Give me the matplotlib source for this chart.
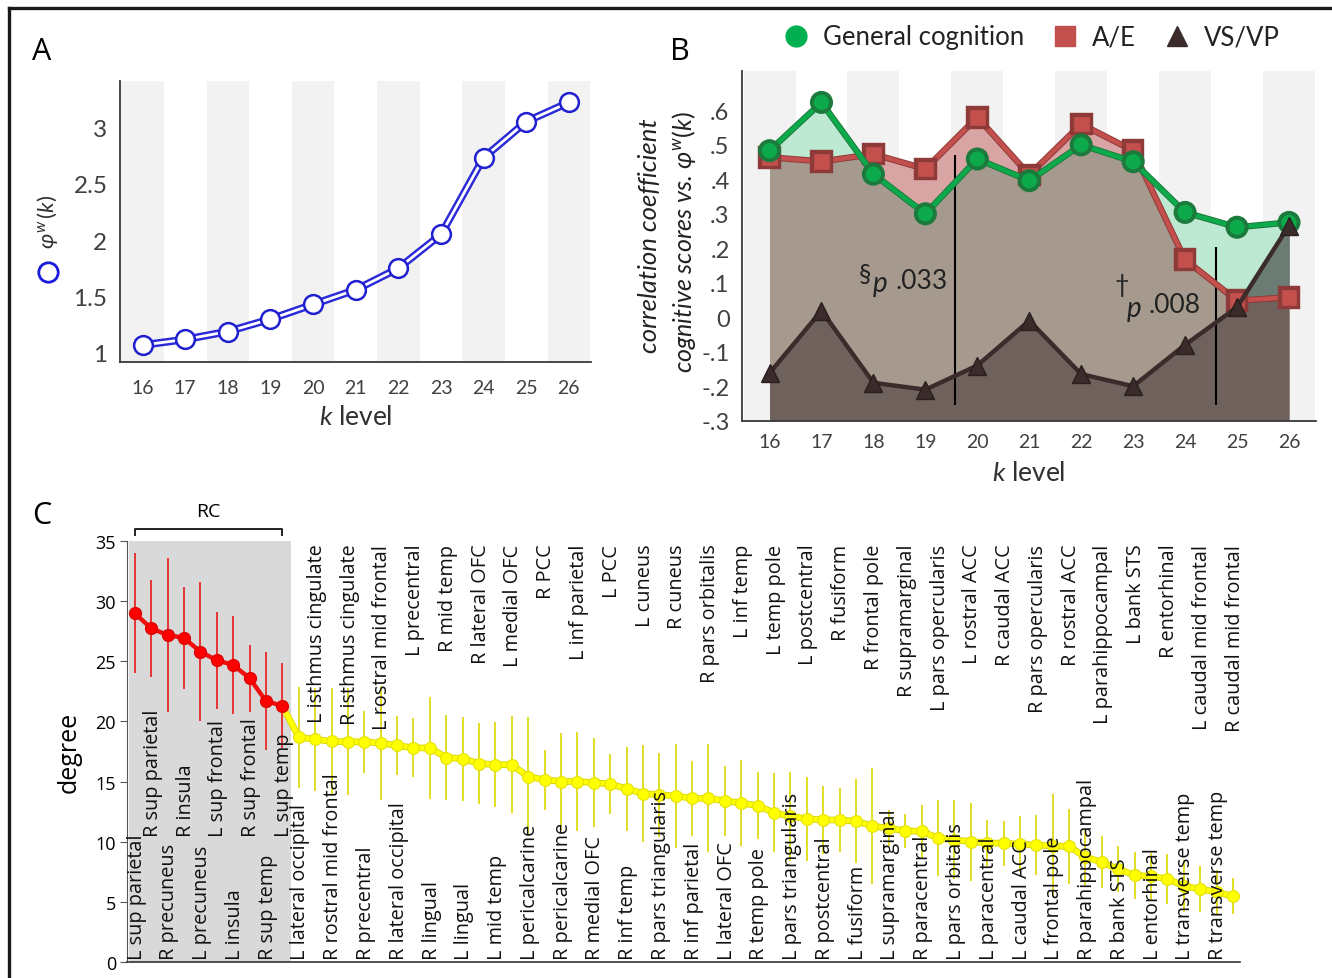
import numpy as np
import matplotlib
matplotlib.use("Agg")
import matplotlib.pyplot as plt
from matplotlib.lines import Line2D
import matplotlib.patheffects as pe

# ---------------- data ----------------
k_levels = [16, 17, 18, 19, 20, 21, 22, 23, 24, 25, 26]
phi_w = [1.07, 1.12, 1.19, 1.30, 1.43, 1.56, 1.75, 2.05, 2.73, 3.05, 3.22]

gen_cog = [0.483, 0.623, 0.415, 0.300, 0.459, 0.396, 0.500, 0.451, 0.304, 0.261, 0.275]
ae_corr = [0.464, 0.452, 0.473, 0.430, 0.580, 0.413, 0.560, 0.483, 0.167, 0.048, 0.058]
vsvp_corr = [-0.162, 0.019, -0.190, -0.210, -0.140, -0.010, -0.165, -0.200, -0.080, 0.029, 0.266]

b_yticks = [-0.3, -0.2, -0.1, 0.0, 0.1, 0.2, 0.3, 0.4, 0.5, 0.6]
b_yticklabels = ["-.3", "-.2", "-.1", "0", ".1", ".2", ".3", ".4", ".5", ".6"]

regions = ["L sup parietal", "R sup parietal", "R precuneus", "R insula", "L precuneus",
           "L sup frontal", "L insula", "R sup frontal", "R sup temp", "L sup temp",
           "L lateral occipital", "L isthmus cingulate", "R rostral mid frontal",
           "R isthmus cingulate", "R precentral", "L rostral mid frontal",
           "R lateral occipital", "L precentral", "R lingual", "R mid temp",
           "L lingual", "R lateral OFC", "L mid temp", "L medial OFC",
           "L pericalcarine", "R PCC", "R pericalcarine", "L inf parietal",
           "R medial OFC", "L PCC", "R inf temp", "L cuneus", "R pars triangularis",
           "R cuneus", "R inf parietal", "R pars orbitalis", "L lateral OFC",
           "L inf temp", "R temp pole", "L temp pole", "L pars triangularis",
           "L postcentral", "R postcentral", "R fusiform", "L fusiform",
           "R frontal pole", "L supramarginal", "R supramarginal", "R paracentral",
           "L pars opercularis", "L pars orbitalis", "L rostral ACC", "L paracentral",
           "R caudal ACC", "L caudal ACC", "R pars opercularis", "L frontal pole",
           "R rostral ACC", "R parahippocampal", "L parahippocampal", "R bank STS",
           "L bank STS", "L entorhinal", "R entorhinal", "L transverse temp",
           "L caudal mid frontal", "R transverse temp", "R caudal mid frontal"]

degree = [29.0, 27.75, 27.2, 26.95, 25.8, 25.1, 24.7, 23.6, 21.7, 21.3,
          18.7, 18.5, 18.35, 18.3, 18.3, 18.2, 18.0, 17.8, 17.8, 17.0,
          16.9, 16.5, 16.4, 16.4, 15.4, 15.15, 15.0, 15.0, 14.9, 14.8,
          14.4, 14.0, 13.9, 13.8, 13.6, 13.6, 13.4, 13.2, 13.0, 12.4,
          12.1, 11.9, 11.8, 11.8, 11.7, 11.3, 11.1, 10.9, 10.85, 10.3,
          10.15, 10.0, 9.9, 9.85, 9.8, 9.7, 9.65, 9.6, 8.7, 8.3,
          7.7, 7.2, 7.1, 6.9, 6.3, 6.05, 5.8, 5.45]

degree_err = [5.0, 4.05, 6.4, 4.25, 5.8, 4.05, 4.1, 2.8, 4.1, 3.55,
              4.2, 4.3, 4.45, 4.45, 2.6, 4.75, 2.45, 2.45, 4.25, 3.5,
              3.5, 3.4, 3.55, 4.05, 4.95, 2.5, 4.0, 4.1, 3.7, 2.5,
              3.5, 4.0, 3.5, 4.35, 3.1, 4.5, 2.9, 3.6, 2.8, 3.3,
              3.7, 3.5, 2.8, 2.7, 3.5, 4.8, 1.5, 1.4, 2.2, 3.2,
              3.3, 3.25, 1.9, 1.9, 2.35, 2.5, 4.3, 3.15, 2.35, 2.15,
              1.9, 1.95, 1.95, 2.1, 2.15, 1.9, 1.8, 1.5]

n_rich_club = 10

# ---------------- style ----------------
plt.rcParams['font.family'] = ['Lato', 'DejaVu Sans']
plt.rcParams['mathtext.fontset'] = 'custom'
plt.rcParams['mathtext.rm'] = 'Lato'
plt.rcParams['mathtext.it'] = 'Lato:italic'
plt.rcParams['mathtext.bf'] = 'Lato:bold'
plt.rcParams['mathtext.fallback'] = 'stixsans'

W, H = 1332, 979
fig = plt.figure(figsize=(W / 100, H / 100), dpi=100)

TICKC = '#404040'
BAND = '#f2f2f2'

# figure frame (top and left)
fig.add_artist(Line2D([9 / W, 1.0], [1 - 9 / H, 1 - 9 / H], transform=fig.transFigure,
                      color='#1a1a1a', lw=2.4))
fig.add_artist(Line2D([9 / W, 9 / W], [0.0, 1 - 9 / H], transform=fig.transFigure,
                      color='#1a1a1a', lw=2.4))

k = np.array(k_levels)

def style_ab(ax):
    for s in ['top', 'right']:
        ax.spines[s].set_visible(False)
    for s in ['left', 'bottom']:
        ax.spines[s].set_color('#3a3a3a')
        ax.spines[s].set_linewidth(1.3)
    ax.tick_params(length=0, colors=TICKC)
    for kk in k[::2]:
        ax.axvspan(kk - 0.5, kk + 0.5, color=BAND, lw=0, zorder=0)
    ax.set_xticks(k)
    ax.set_xlim(15.47, 26.52)

# ---------------- Panel A ----------------
axA = fig.add_axes([120 / W, 1 - 363 / H, 471 / W, 281 / H])
style_ab(axA)
axA.set_ylim(0.92, 3.41)
axA.set_yticks([1, 1.5, 2, 2.5, 3])
axA.set_yticklabels(["1", "1.5", "2", "2.5", "3"])
axA.tick_params(axis='y', labelsize=17.5, pad=9)
axA.tick_params(axis='x', labelsize=14, pad=12)
axA.plot(k, phi_w, color='#2a2ad8', lw=5.5, zorder=3, solid_capstyle='round')
axA.plot(k, phi_w, color='white', lw=2.0, zorder=4, solid_capstyle='round')
axA.plot(k, phi_w, 'o', ms=13.5, mfc='white', mec='#2020d0', mew=1.8, zorder=5)
axA.set_xlabel(r"$k$ level", fontsize=19, color='#303030', labelpad=6)

fig.text(48 / W, 1 - 222 / H, r"$\varphi^{w}\,(k)$", rotation=90, ha='center', va='center',
         fontsize=16, color='#303030')
fig.add_artist(Line2D([48 / W], [1 - 273 / H], transform=fig.transFigure, marker='o',
                      ms=14, mfc='white', mec='#1a1adb', mew=2, ls='none'))

# ---------------- Panel B ----------------
axB = fig.add_axes([742 / W, 1 - 421.7 / H, 574 / W, 350 / H])
style_ab(axB)
axB.set_ylim(-0.3, 0.715)
axB.set_yticks(b_yticks)
axB.set_yticklabels(b_yticklabels)
axB.tick_params(axis='y', labelsize=17, pad=9)
axB.tick_params(axis='x', labelsize=14, pad=9)

g = np.array(gen_cog)
r = np.array(ae_corr)
b = np.array(vsvp_corr)
base = -0.3
MINT = '#bde8d1'
PINK = '#d9a5a4'
GRAYBROWN = '#a69a8e'
DARKBROWN = '#6f625c'
DARKGG = '#6b7c74'
axB.fill_between(k, base, g, color=GRAYBROWN, lw=0, zorder=1)
axB.fill_between(k, base, r, color=GRAYBROWN, lw=0, zorder=1)
axB.fill_between(k, r, g, where=g >= r, interpolate=True, color=MINT, lw=0, zorder=1.5)
axB.fill_between(k, r, g, where=r > g, interpolate=True, color=PINK, lw=0, zorder=1.5)
axB.fill_between(k, base, b, color=DARKBROWN, lw=0, zorder=2)
axB.fill_between(k, r, b, where=b > r, interpolate=True, color=DARKGG, lw=0, zorder=2.5)

# significance lines
axB.vlines([19.58, 24.59], [-0.255, -0.255], [0.47, 0.203], color='black', lw=1.5, zorder=3)
axB.text(17.72, 0.128, "§", fontsize=18, ha='left', va='center', color='#222222', zorder=6)
axB.text(17.98, 0.098, "p", fontsize=20, style='italic', ha='left', va='center', color='#222222', zorder=6)
axB.text(18.42, 0.108, ".033", fontsize=19, ha='left', va='center', color='#222222', zorder=6)
axB.text(22.65, 0.095, "†", fontsize=18, ha='left', va='center', color='#222222', zorder=6)
axB.text(22.88, 0.028, "p", fontsize=20, style='italic', ha='left', va='center', color='#222222', zorder=6)
axB.text(23.30, 0.038, ".008", fontsize=19, ha='left', va='center', color='#222222', zorder=6)

GREEN = '#0daa4c'
RED = '#c4504d'
DARK = '#3b2b2b'
axB.plot(k, r, color=RED, lw=3.2, marker='s', ms=12, mfc=RED, mec='#8e3a38', mew=1.0, zorder=4,
         path_effects=[pe.Stroke(linewidth=4.6, foreground='#8e3a38'), pe.Normal()])
axB.plot(k, g, color=GREEN, lw=3.2, marker='o', ms=12, mfc=GREEN, mec='#1b7a3c', mew=1.0, zorder=5,
         path_effects=[pe.Stroke(linewidth=4.6, foreground='#1b7a3c'), pe.Normal()])
axB.plot(k, b, color=DARK, lw=3.2, marker='^', ms=13, mfc=DARK, mec='#2a1e1e', mew=1.0, zorder=5.5)
axB.set_xlabel(r"$k$ level", fontsize=19, color='#303030', labelpad=7)

fig.text(650 / W, 1 - 236 / H, "correlation coefficient", rotation=90, ha='center', va='center',
         fontsize=18.5, style='italic', color='#222222')
fig.text(684 / W, 1 - 242 / H, r"cognitive scores vs. $\varphi^{w}(k)$", rotation=90, ha='center',
         va='center', fontsize=18, style='italic', color='#222222')

handles = [Line2D([], [], ls='none', marker='o', ms=15, mfc='#00b050', mec='#00b050'),
           Line2D([], [], ls='none', marker='s', ms=15, mfc=RED, mec=RED),
           Line2D([], [], ls='none', marker='^', ms=14, mfc=DARK, mec=DARK)]
fig.legend(handles, ["General cognition", "A/E", "VS/VP"], loc='center',
           bbox_to_anchor=(1030 / W, 1 - 38 / H), ncol=3, frameon=False, fontsize=18.5,
           handletextpad=0.45, columnspacing=1.0, handlelength=1.2, labelcolor='#222222')

# panel letters
fig.text(42 / W, 1 - 52 / H, "A", fontsize=22, ha='center', va='center', family='Open Sans')
fig.text(680 / W, 1 - 52 / H, "B", fontsize=22, ha='center', va='center', family='Open Sans')
fig.text(42 / W, 1 - 516 / H, "C", fontsize=22, ha='center', va='center', family='Open Sans')

# ---------------- Panel C ----------------
axC = fig.add_axes([127 / W, 1 - 962.7 / H, 1113 / W, 420.4 / H])
idx = np.arange(len(regions))
deg = np.array(degree)
err = np.array(degree_err)
axC.set_xlim(-0.48, len(regions) - 1 + 0.43)
axC.set_ylim(0, 35)
axC.set_yticks(range(0, 36, 5))
axC.set_xticks([])
for s in ['top', 'right']:
    axC.spines[s].set_visible(False)
axC.spines['left'].set_color('#555555')
axC.spines['bottom'].set_color('#333333')
axC.spines['bottom'].set_linewidth(1.2)
axC.tick_params(axis='y', labelsize=13, length=5, color='#555555', pad=3)
for lab in axC.get_yticklabels():
    lab.set_family('Open Sans')
axC.set_ylabel("degree", fontsize=18, family='Open Sans', labelpad=10)

axC.axvspan(-0.38, n_rich_club - 0.47, color='#d9d9d9', lw=0, zorder=0)

rc = slice(0, n_rich_club)
nrc = slice(n_rich_club, None)
axC.errorbar(idx[rc], deg[rc], yerr=err[rc], fmt='none', ecolor='#e81818', elinewidth=1.2, capsize=0, zorder=2)
axC.errorbar(idx[nrc], deg[nrc], yerr=err[nrc], fmt='none', ecolor='#dcd800', elinewidth=1.2, capsize=0, zorder=2)
axC.plot(idx[n_rich_club - 1:], deg[n_rich_club - 1:], color='#ffff00', lw=3.5, zorder=3,
         path_effects=[pe.Stroke(linewidth=4.8, foreground='#d8d400'), pe.Normal()])
axC.plot(idx[nrc], deg[nrc], 'o', ms=8.5, mfc='#ffff00', mec='#e6e200', mew=0.8, zorder=4)
axC.plot(idx[rc], deg[rc], color='#f01010', lw=3.2, marker='o', ms=8.5, mfc='#ff0000', mec='#e00000',
         zorder=5)

for i, name in enumerate(regions):
    kw = dict(rotation=90, ha='center', fontsize=14.3, family='Open Sans', color='#111111', zorder=6)
    if i % 2 == 0:
        axC.text(i + 0.1, 0.25, name, va='bottom', **kw)
    elif i < n_rich_club:
        axC.text(i + 0.1, 10.5, name, va='bottom', **kw)
    else:
        axC.text(i + 0.1, 34.8, name, va='top', **kw)

# RC bracket
axC.plot([0, 0, n_rich_club - 1, n_rich_club - 1], [35.5, 36.05, 36.05, 35.5], color='#222222',
         lw=1.4, clip_on=False)
axC.text((n_rich_club - 1) / 2, 37.5, "RC", ha='center', va='center', fontsize=14,
         family='Open Sans', clip_on=False)

fig.savefig("out.png", dpi=100)
